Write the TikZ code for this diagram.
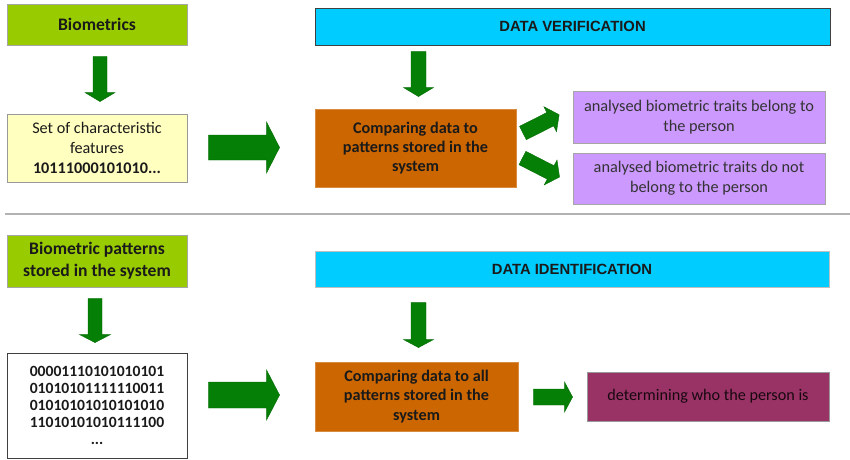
\documentclass[tikz,border=0pt]{standalone}
\usepackage{fontspec}
\setmainfont{Carlito}
\newfontfamily\headfont{Liberation Sans}
\usetikzlibrary{calc}

\definecolor{limegreen}{HTML}{99CC00}
\definecolor{paleyellow}{HTML}{FFFFC0}
\definecolor{skyblue}{HTML}{00CCFF}
\definecolor{burntorange}{HTML}{CC6600}
\definecolor{lilac}{HTML}{CC99FF}
\definecolor{plum}{HTML}{993366}
\definecolor{arrowgreen}{HTML}{057F05}
\definecolor{darktext}{HTML}{1A1A1A}

\tikzset{
  box/.style={draw=black!40, line width=0.9pt, align=center, inner sep=0pt, text=darktext},
  greenbox/.style={box, fill=limegreen, draw=black!35, minimum width=180pt,
    font=\fontsize{17.6}{21.7}\selectfont\bfseries},
  featbox/.style={box, fill=paleyellow, minimum width=180pt, font=\fontsize{16.2}{20}\selectfont},
  bitsbox/.style={box, fill=white, draw=black!75, minimum width=180pt,
    font=\fontsize{15.6}{17.2}\selectfont\bfseries},
  headbox/.style={box, fill=skyblue, font=\headfont\fontsize{14.8}{17}\selectfont\bfseries},
  cmpbox/.style={box, fill=burntorange, draw=burntorange!75!white,
    font=\fontsize{16.2}{19.2}\selectfont\bfseries},
  answerbox/.style={box, fill=lilac, draw=black!35, minimum width=252pt,
    font=\fontsize{16.3}{20}\selectfont, text=black!80},
  fatarrow/.style={fill=arrowgreen, draw=arrowgreen!85!black, line width=0.4pt},
  sepline/.style={draw=black!30, line width=2pt}
}

% tail, tip, half shaft, half head, head length
\newcommand{\fatarrow}[5]{%
  \path[fatarrow] let \p1=(#1), \p2=(#2),
    \n1={atan2(\y2-\y1,\x2-\x1)}, \n2={veclen(\x2-\x1,\y2-\y1)} in
    [shift={(\p1)}, rotate=\n1]
    (0,#3) -- ({\n2-#5},#3) -- ({\n2-#5},#4) -- (\n2,0) -- ({\n2-#5},-#4)
    -- ({\n2-#5},-#3) -- (0,-#3) -- cycle;}

\begin{document}
\begin{tikzpicture}[x=1pt,y=-1pt]
  \useasboundingbox (0,0) rectangle (850,459);

  % verification
  \node[greenbox, minimum height=41pt] (bio) at (97,24.5) {Biometrics};
  \node[featbox, minimum height=68pt] (feat) at (97,148)
    {Set of characteristic\\features\\\textbf{10111000101010...}};
  \node[headbox, draw=black!75, minimum width=515pt, minimum height=37pt] (ver) at (572.5,26.5)
    {DATA VERIFICATION};
  \node[cmpbox, minimum width=201pt, minimum height=78pt] (cmp1) at (415.5,148)
    {Comparing data to\\patterns stored in the\\system};
  \node[answerbox, minimum height=52pt] (yes) at (699,117)
    {analysed biometric traits belong to\\the person};
  \node[answerbox, minimum height=51pt] (no) at (699,178.5)
    {analysed biometric traits do not\\belong to the person};

  \fatarrow{$(bio.south)+(3,11)$}{$(feat.north)+(3,-12)$}{7}{15}{9}
  \fatarrow{$(feat.east)+(21,-0.5)$}{$(cmp1.west)+(-35,-0.5)$}{12.5}{25.5}{13}
  \fatarrow{$(cmp1.north)+(3,-57)$}{$(cmp1.north)+(3,-12)$}{7.5}{15}{9}
  \fatarrow{$(cmp1.east)+(6.5,-15)$}{$(yes.west)+(-13.4,-2.3)$}{7.5}{14}{10}
  \fatarrow{$(cmp1.east)+(6,10)$}{$(no.west)+(-13,-1.5)$}{7.5}{14}{10}

  \draw[sepline] (5,214) -- (850,214);

  % identification
  \node[greenbox, minimum height=52pt] (pat) at (97,261)
    {Biometric patterns\\stored in the system};
  \node[bitsbox, minimum height=105pt] (bits) at (97,405.5)
    {00001110101010101\\01010101111110011\\01010101010101010\\11010101010111100\\...};
  \node[headbox, draw=black!25, minimum width=514pt, minimum height=36pt] (ident) at (572,269)
    {DATA IDENTIFICATION};
  \node[cmpbox, minimum width=203pt, minimum height=69pt] (cmp2) at (416.5,396.5)
    {Comparing data to all\\patterns stored in the\\system};
  \node[box, fill=plum, minimum width=242pt, minimum height=49pt, text=black!85!plum,
    font=\fontsize{16.2}{20}\selectfont] (who) at (708,396.5) {determining who the person is};

  \fatarrow{$(pat.south)+(-2,11)$}{$(bits.north)+(-2,-10)$}{7}{15.5}{8}
  \fatarrow{$(bits.east)+(21,-10.5)$}{$(cmp2.west)+(-35,-1.5)$}{13}{25}{13}
  \fatarrow{$(cmp2.north)+(2,-59)$}{$(cmp2.north)+(2,-14)$}{7.5}{15}{8}
  \fatarrow{$(cmp2.east)+(15,0.5)$}{$(who.west)+(-14,0.5)$}{8}{15}{8}
\end{tikzpicture}
\end{document}
